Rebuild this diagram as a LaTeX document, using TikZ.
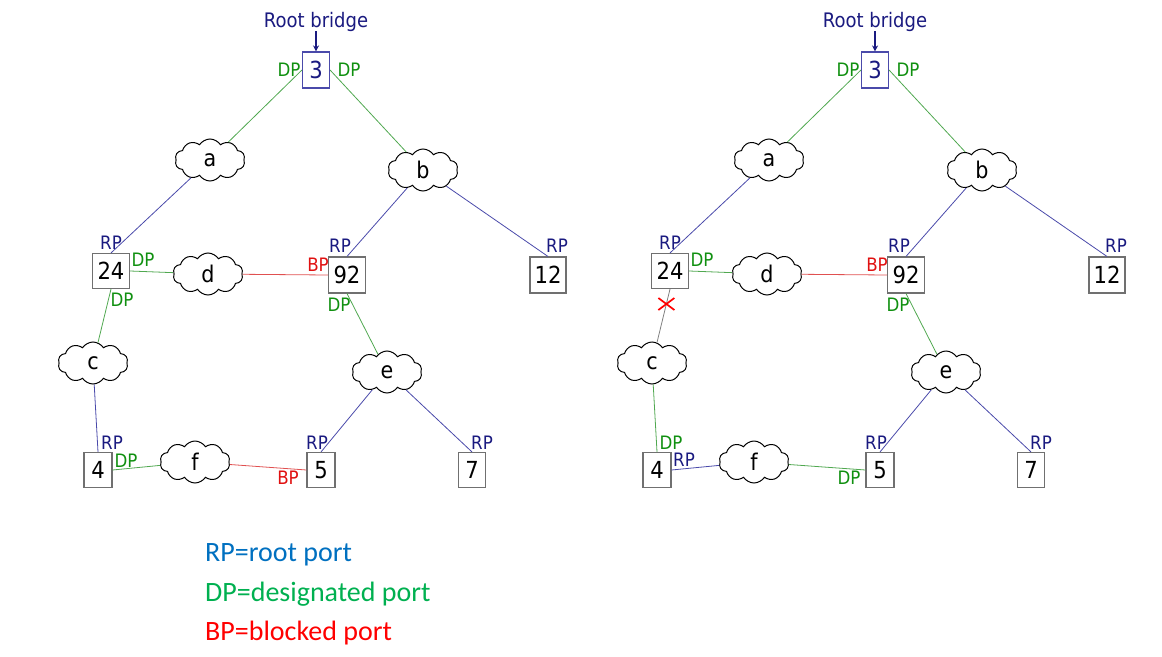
\documentclass[tikz,border=0pt]{standalone}
\usepackage{fontspec}
\setmainfont{DejaVu Sans}[FakeStretch=0.9]
\newfontfamily\legfont{Carlito}
\usetikzlibrary{shapes.symbols,arrows.meta}
\definecolor{navy}{HTML}{1A1A80}
\definecolor{dpg}{HTML}{109010}
\definecolor{bpr}{HTML}{E01010}
\definecolor{lblue}{HTML}{4A4AAA}
\definecolor{lgreen}{HTML}{50A850}
\definecolor{lred}{HTML}{E05050}
\definecolor{lgray}{HTML}{808080}
\definecolor{boxgray}{HTML}{707070}
\definecolor{legblue}{HTML}{0070C0}
\definecolor{leggreen}{HTML}{00B050}
\definecolor{legred}{HTML}{FF0000}
\tikzset{
 bridge/.style={draw=boxgray, line width=1.1pt, fill=white, inner sep=0pt, font=\fontsize{23.5}{23.5}\selectfont},
 rootbox/.style={bridge, draw=lblue, text=navy},
 lan/.style={cloud, cloud puffs=10, cloud puff arc=115, aspect=1.6, draw=black, line width=1pt, fill=white, minimum width=70pt, minimum height=42pt, inner sep=0pt, font=\fontsize{23}{23}\selectfont},
 lab/.style={font=\fontsize{18.5}{18.5}\selectfont, inner sep=0pt},
 rp/.style={lab, text=navy},
 dp/.style={lab, text=dpg},
 bp/.style={lab, text=bpr},
 bl/.style={draw=lblue, line width=0.8pt},
 gl/.style={draw=lgreen, line width=0.8pt},
 rl/.style={draw=lred, line width=0.8pt},
 grl/.style={draw=lgray, line width=0.8pt},
 rbtext/.style={font=\fontsize{20}{20}\selectfont, text=navy, inner sep=0pt, anchor=base},
 rbarrow/.style={draw=navy, line width=1.2pt, -{Stealth[length=6pt,width=6pt]}},
 legend/.style={font=\legfont\fontsize{28}{28}\selectfont, anchor=base west, inner sep=0pt},
}
\begin{document}
\begin{tikzpicture}[x=1pt,y=-1pt]
\useasboundingbox (0,0) rectangle (1162,656);
% ================= LEFT PANEL =================
\node[rbtext] (rbL) at (316,27) {Root bridge};
\coordinate (rbaL) at (316,31);
\node[rootbox, minimum width=27pt, minimum height=36pt] (r3L) at (316,70) {3};
\draw[rbarrow] (rbaL) -- (r3L.north);
\node[lan] (aL) at (210,160) {a};
\node[lan] (bL) at (423,170) {b};
\node[bridge, minimum width=37pt, minimum height=35pt] (n24L) at (111,271) {24};
\node[lan] (dL) at (208,274) {d};
\node[bridge, minimum width=37pt, minimum height=36pt] (n92L) at (347,275) {92};
\node[bridge, minimum width=36pt, minimum height=36pt] (n12L) at (548,275) {12};
\node[lan] (cL) at (93,363) {c};
\node[lan] (eL) at (387,372) {e};
\node[bridge, minimum width=28pt, minimum height=35pt] (n4L) at (98,470) {4};
\node[lan] (fL) at (195,462) {f};
\node[bridge, minimum width=28pt, minimum height=35pt] (n5L) at (321,470) {5};
\node[bridge, minimum width=27pt, minimum height=35pt] (n7L) at (472,470) {7};
\draw[gl] (r3L.west) -- (aL);
\draw[gl] (r3L.east) -- (bL);
\draw[bl] (aL) -- (n24L.north);
\draw[bl] (bL) -- (n92L.north);
\draw[bl] (bL) -- (n12L.north);
\draw[gl] (n24L.east) -- (dL);
\draw[rl] (dL) -- (n92L.west);
\draw[gl] (n24L.south) -- (cL);
\draw[gl] (n92L.south) -- (eL);
\draw[bl] (cL) -- (n4L.north);
\draw[bl] (eL) -- (n5L.north);
\draw[bl] (eL) -- (n7L.north);
\draw[gl] (n4L.east) -- (fL);
\draw[rl] (fL) -- (n5L.west);
\node[dp] (l1L) at (289,70) {DP};
\node[dp] (l2L) at (349,70) {DP};
\node[rp] (l3L) at (111,243) {RP};
\node[dp] (l4L) at (143,260) {DP};
\node[dp] (l5L) at (122,300) {DP};
\node[rp] (l6L) at (340,246) {RP};
\node[bp] (l7L) at (318,265) {BP};
\node[dp] (l8L) at (339,305) {DP};
\node[rp] (l9L) at (557,246) {RP};
\node[rp] (l10L) at (112,443) {RP};
\node[dp] (l11L) at (126,461) {DP};
\node[rp] (l12L) at (317,443) {RP};
\node[bp] (l13L) at (288,478) {BP};
\node[rp] (l14L) at (482,443) {RP};
% ================= RIGHT PANEL =================
\node[rbtext] (rbR) at (875,27) {Root bridge};
\coordinate (rbaR) at (875,31);
\node[rootbox, minimum width=27pt, minimum height=36pt] (r3R) at (875,70) {3};
\draw[rbarrow] (rbaR) -- (r3R.north);
\node[lan] (aR) at (769,160) {a};
\node[lan] (bR) at (982,170) {b};
\node[bridge, minimum width=37pt, minimum height=35pt] (n24R) at (670,271) {24};
\node[lan] (dR) at (767,274) {d};
\node[bridge, minimum width=37pt, minimum height=36pt] (n92R) at (906,275) {92};
\node[bridge, minimum width=36pt, minimum height=36pt] (n12R) at (1107,275) {12};
\node[lan] (cR) at (652,363) {c};
\node[lan] (eR) at (946,372) {e};
\node[bridge, minimum width=28pt, minimum height=35pt] (n4R) at (657,470) {4};
\node[lan] (fR) at (754,462) {f};
\node[bridge, minimum width=28pt, minimum height=35pt] (n5R) at (880,470) {5};
\node[bridge, minimum width=27pt, minimum height=35pt] (n7R) at (1031,470) {7};
\draw[gl] (r3R.west) -- (aR);
\draw[gl] (r3R.east) -- (bR);
\draw[bl] (aR) -- (n24R.north);
\draw[bl] (bR) -- (n92R.north);
\draw[bl] (bR) -- (n12R.north);
\draw[gl] (n24R.east) -- (dR);
\draw[rl] (dR) -- (n92R.west);
\draw[grl] (n24R.south) -- (cR) coordinate[pos=0.28] (xm);
\draw[gl] (n92R.south) -- (eR);
\draw[gl] (cR) -- (n4R.north);
\draw[bl] (eR) -- (n5R.north);
\draw[bl] (eR) -- (n7R.north);
\draw[bl] (n4R.east) -- (fR);
\draw[gl] (fR) -- (n5R.west);
\draw[draw=legred, line width=1.7pt] ([shift={(-8,-6)}]xm) -- ([shift={(8,6)}]xm);
\draw[draw=legred, line width=1.7pt] ([shift={(-8,6)}]xm) -- ([shift={(8,-6)}]xm);
\node[dp] (l1R) at (848,70) {DP};
\node[dp] (l2R) at (908,70) {DP};
\node[rp] (l3R) at (670,243) {RP};
\node[dp] (l4R) at (702,260) {DP};
\node[rp] (l6R) at (899,246) {RP};
\node[bp] (l7R) at (877,265) {BP};
\node[dp] (l8R) at (898,305) {DP};
\node[rp] (l9R) at (1116,246) {RP};
\node[dp] (l10R) at (671,443) {DP};
\node[rp] (l11R) at (684,460) {RP};
\node[rp] (l12R) at (876,443) {RP};
\node[dp] (l13R) at (849,478) {DP};
\node[rp] (l14R) at (1041,443) {RP};
% ================= LEGEND =================
\node[legend, text=legblue] (leg1) at (205,561) {RP=root port};
\node[legend, text=leggreen] (leg2) at (205,601) {DP=designated port};
\node[legend, text=legred] (leg3) at (205,640) {BP=blocked port};
\end{tikzpicture}
\end{document}
